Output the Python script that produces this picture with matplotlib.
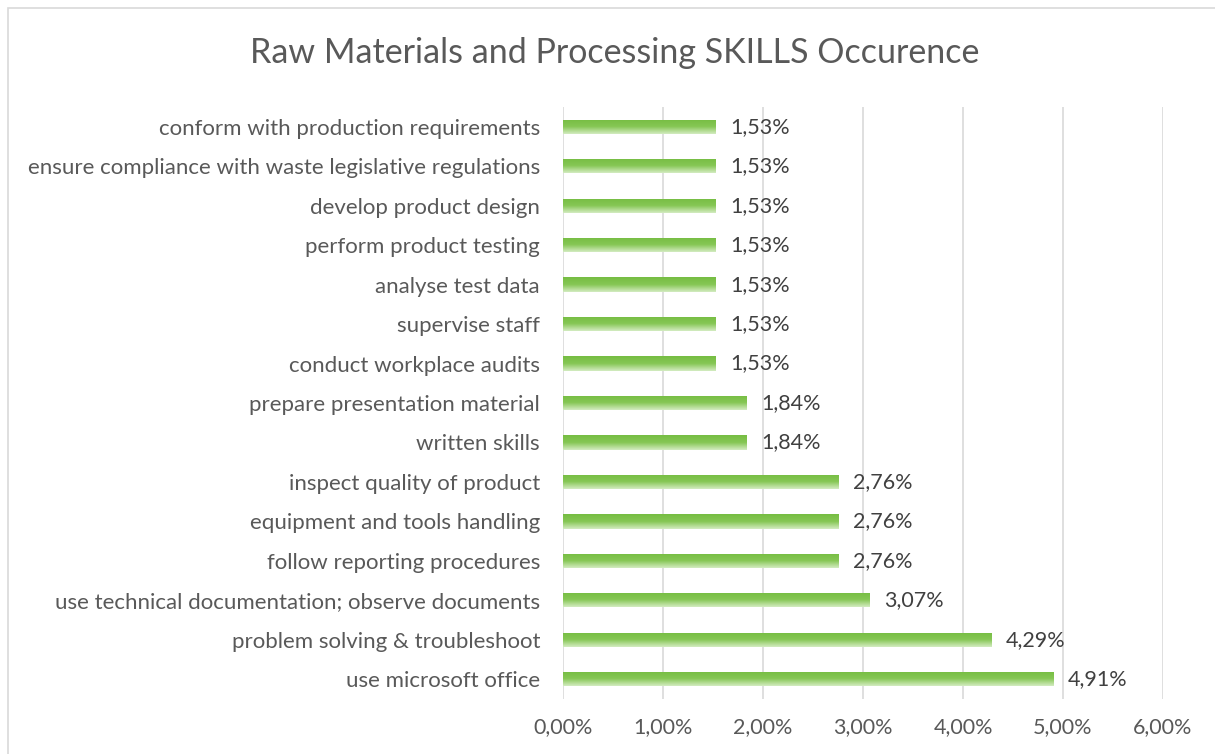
import matplotlib.pyplot as plt
import numpy as np
from matplotlib.patches import Rectangle
from matplotlib.colors import LinearSegmentedColormap

skills = [
    "use microsoft office",
    "problem solving & troubleshoot",
    "use technical documentation; observe documents",
    "follow reporting procedures",
    "equipment and tools handling",
    "inspect quality of product",
    "written skills",
    "prepare presentation material",
    "conduct workplace audits",
    "supervise staff",
    "analyse test data",
    "perform product testing",
    "develop product design",
    "ensure compliance with waste legislative regulations",
    "conform with production requirements",
]
shares = [4.91, 4.29, 3.07, 2.76, 2.76, 2.76, 1.84, 1.84, 1.53, 1.53, 1.53, 1.53, 1.53, 1.53, 1.53]
x_ticks = [0, 1, 2, 3, 4, 5, 6]

plt.rcParams['font.family'] = ['Lato', 'DejaVu Sans']

fig = plt.figure(figsize=(12.15, 7.54), dpi=100)
ax = fig.add_axes([563 / 1215, 1 - 699 / 754, 600 / 1215, 592 / 754])

# chart border
fig.patches.append(Rectangle((8 / 1215, -0.01), 1.0, 1 - 8 / 754 + 0.01, transform=fig.transFigure,
                             fill=False, edgecolor='#D9D9D9', linewidth=1.2))

y = np.arange(len(skills))
bars = ax.barh(y, shares, height=0.36, color='none', zorder=3)

# vertical green gradient inside each bar
green = LinearSegmentedColormap.from_list('g', ['#76BD42', '#86C755', '#D3EBC0'])
grad = np.linspace(0, 1, 64).reshape(-1, 1)
for b in bars:
    x0, y0 = b.get_x(), b.get_y()
    w, h = b.get_width(), b.get_height()
    im = ax.imshow(grad, cmap=green, aspect='auto', extent=(x0, x0 + w, y0, y0 + h),
                   origin='upper', zorder=3)
    im.set_clip_path(b)

for yi, v in zip(y, shares):
    ax.text(v + 0.14, yi, f"{v:.2f}%".replace('.', ','), va='center', ha='left',
            fontsize=15.5, color='#404040', zorder=4)

ax.set_xlim(0, 6)
ax.set_ylim(-0.5, len(skills) - 0.5)
ax.set_xticks(x_ticks)
ax.set_xticklabels([f"{t:.2f}%".replace('.', ',') for t in x_ticks])
ax.set_yticks(y)
ax.set_yticklabels(skills)
ax.tick_params(axis='both', length=0, labelcolor='#595959')
ax.tick_params(axis='x', pad=13, labelsize=15.5)
ax.tick_params(axis='y', pad=16.5, labelsize=16)
ax.grid(axis='x', color='#D9D9D9', linewidth=1.2, zorder=0)
for s in ax.spines.values():
    s.set_visible(False)

fig.text(615 / 1215, 1 - 53 / 754, "Raw Materials and Processing SKILLS Occurence",
         ha='center', va='center', fontsize=24.5, color='#595959')

fig.savefig('out.png', dpi=100)
